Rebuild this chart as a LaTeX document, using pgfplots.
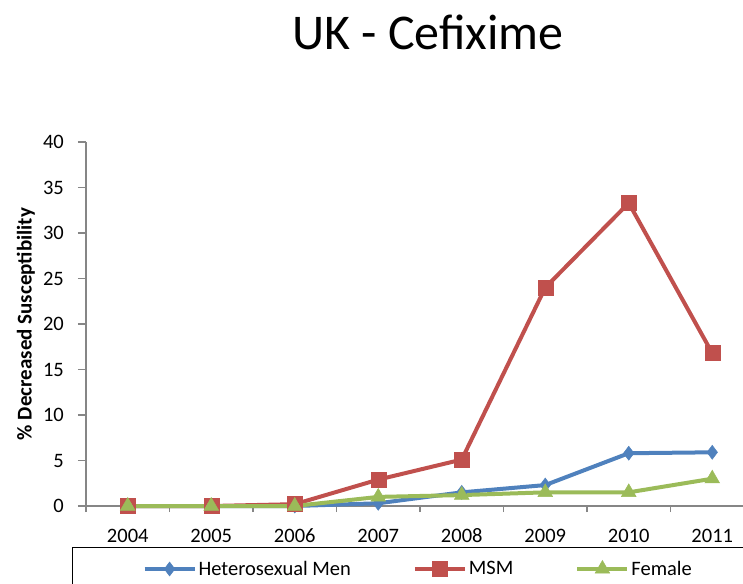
\documentclass[border=0pt]{standalone}
\usepackage{fontspec}
\setmainfont{Carlito}
\usepackage{pgfplots}
\pgfplotsset{compat=1.18}
\definecolor{hetblue}{HTML}{4F81BD}
\definecolor{msmred}{HTML}{C0504D}
\definecolor{femgreen}{HTML}{9BBB59}
\definecolor{axisgray}{HTML}{868686}

\begin{document}
\begin{tikzpicture}
\begin{axis}[
  at={(0pt,0pt)}, anchor=south west,
  scale only axis, width=668pt, height=364pt,
  xmin=-0.5, xmax=7.5, ymin=0, ymax=40,
  axis lines*=left,
  axis line style={axisgray, line width=1.6pt},
  xtick={0,...,7},
  xticklabels={2004,2005,2006,2007,2008,2009,2010,2011},
  minor xtick={-0.5,0.5,...,7.5},
  major x tick style={draw=none},
  ytick={0,5,...,40},
  tick align=outside,
  major tick length=8pt, minor tick length=6pt,
  every tick/.style={axisgray, line width=1.3pt},
  tick label style={font=\fontsize{20.5}{24}\selectfont},
  /pgf/number format/assume math mode=true,
  yticklabel style={anchor=east, inner sep=0pt, xshift=-14pt},
  xticklabel style={anchor=base, inner sep=0pt, yshift=-28pt},
  ylabel={\% Decreased Susceptibility},
  ylabel style={font=\bfseries\fontsize{21}{24}\selectfont, inner sep=0pt,
    at={(axis description cs:-0.076,0.5)}, anchor=south},
  clip=false,
  legend columns=3,
  legend cell align=left,
  legend style={at={(axis description cs:0,0)}, anchor=north west,
    xshift=-14pt, yshift=-40.5pt, draw=black, line width=1.2pt,
    font=\fontsize{20.5}{24}\selectfont,
    inner xsep=70pt, inner ysep=12pt,
    nodes={inner sep=2pt},
    /tikz/every even column/.append style={column sep=60pt}},
  legend image code/.code={
    \draw[mark repeat=2, mark phase=2, #1]
      plot coordinates {(0pt,0pt) (25pt,0pt) (50pt,0pt)};
  },
]
% Heterosexual men
\addplot[hetblue, line width=4pt, mark=diamond*, mark size=7pt,
  mark options={solid, line width=0.5pt}]
  coordinates {(0,0) (1,0) (2,0) (3,0.3) (4,1.5) (5,2.3) (6,5.8) (7,5.9)};
\addlegendentry{Heterosexual Men}
% Men who have sex with men
\addplot[msmred, line width=4pt, mark=square*, mark size=7.5pt,
  mark options={solid, line width=0.5pt}]
  coordinates {(0,0) (1,0) (2,0.2) (3,2.9) (4,5.1) (5,24.0) (6,33.3) (7,16.8)};
\addlegendentry{MSM}
% Female
\addplot[femgreen, line width=4pt, mark=triangle*, mark size=8.5pt,
  mark options={solid, line width=0.5pt}]
  coordinates {(0,0) (1,0) (2,0) (3,1.0) (4,1.2) (5,1.5) (6,1.5) (7,3.0)};
\addlegendentry{Female}
\end{axis}
\node[font=\fontsize{50}{56}\selectfont, anchor=base] at (342pt,456pt) {UK - Cefixime};
\pgfresetboundingbox
\useasboundingbox (-86pt,-77pt) rectangle (657pt,506pt);
\end{tikzpicture}
\end{document}
